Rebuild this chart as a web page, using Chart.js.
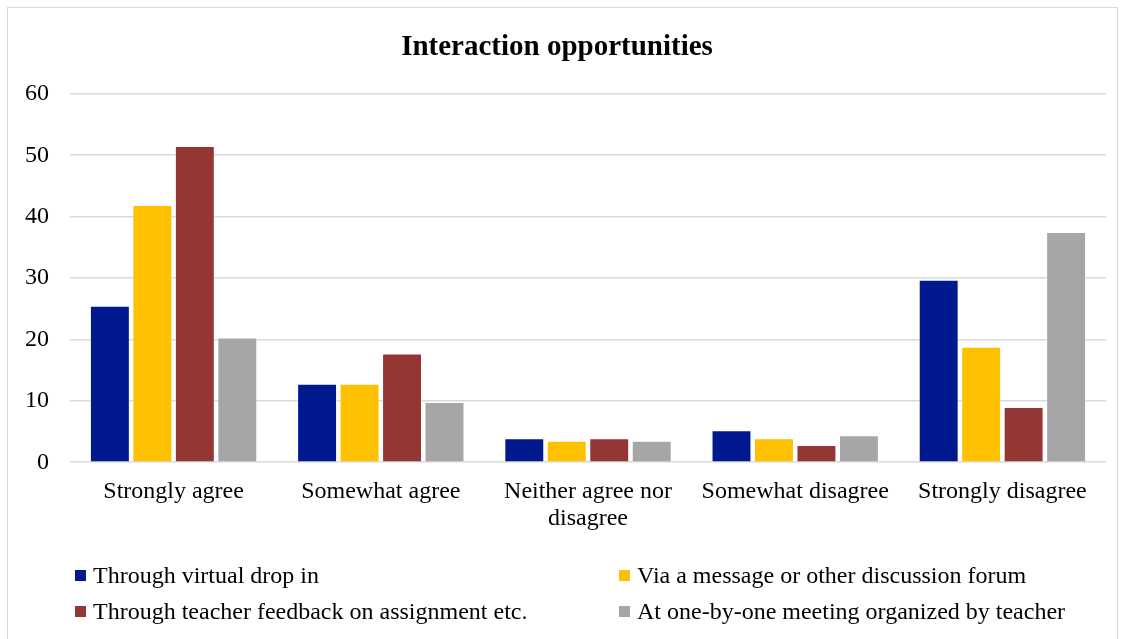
<!DOCTYPE html>
<html lang="en">
<head>
    <meta charset="UTF-8">
    <title>Interaction opportunities</title>
    <script src="https://cdn.jsdelivr.net/npm/chart.js"></script>
    <style>
        body {
            margin: 0;
            background: #ffffff;
            overflow: hidden;
        }
        #wrap {
            position: absolute;
            left: 7px;
            top: 7px;
            width: 1109px;
            height: 640px;
            border: 1px solid #d9d9d9;
        }
    </style>
</head>
<body>
    <div id="wrap">
        <canvas id="chart"></canvas>
    </div>

    <script>
        // Data
        const categories = ['Strongly agree', 'Somewhat agree', ['Neither agree nor', 'disagree'], 'Somewhat disagree', 'Strongly disagree'];
        const seriesNames = [
            'Through virtual drop in',
            'Via a message or other discussion forum',
            'Through teacher feedback on assignment etc.',
            'At one-by-one meeting organized by teacher'
        ];
        const virtualDropIn   = [25.5, 12.8, 3.9, 5.2, 29.7];
        const messageForum    = [41.9, 12.8, 3.5, 3.9, 18.8];
        const teacherFeedback = [51.5, 17.7, 3.9, 2.8, 9.0];
        const oneByOneMeeting = [20.3, 9.8, 3.5, 4.4, 37.5];
        const yTicks = [0, 10, 20, 30, 40, 50, 60];

        const colors = ['#00198F', '#FFC000', '#943634', '#A6A6A6'];
        const FONT = "'Liberation Serif', 'Times New Roman', serif";

        // Two-column legend under the plot, like the original
        const columnLegend = {
            id: 'columnLegend',
            afterDraw(chart) {
                const ctx = chart.ctx;
                const cols = [67, 611];
                const rows = [568, 604];
                ctx.save();
                ctx.font = '24px ' + FONT;
                ctx.textBaseline = 'middle';
                chart.data.datasets.forEach((ds, i) => {
                    const x = cols[i % 2];
                    const y = rows[Math.floor(i / 2)];
                    ctx.fillStyle = ds.backgroundColor;
                    ctx.fillRect(x, y - 6, 11, 11);
                    ctx.fillStyle = '#000';
                    ctx.fillText(ds.label, x + 18, y + 1);
                });
                ctx.restore();
            }
        };

        const allSeries = [virtualDropIn, messageForum, teacherFeedback, oneByOneMeeting];

        new Chart(document.getElementById('chart'), {
            type: 'bar',
            data: {
                labels: categories,
                datasets: allSeries.map((values, i) => ({
                    label: seriesNames[i],
                    data: values,
                    backgroundColor: colors[i],
                    borderColor: 'rgba(255,255,255,0.5)',
                    borderWidth: 1,
                    categoryPercentage: 0.82,
                    barPercentage: 0.94
                }))
            },
            options: {
                responsive: true,
                maintainAspectRatio: false,
                animation: false,
                layout: {
                    padding: { left: 0, right: 11, top: 0, bottom: 108 }
                },
                plugins: {
                    legend: { display: false },
                    tooltip: { enabled: false },
                    title: {
                        display: true,
                        text: 'Interaction opportunities',
                        color: '#000',
                        font: { family: FONT, size: 29, weight: 'bold' },
                        padding: { top: 22, bottom: 29 }
                    }
                },
                scales: {
                    x: {
                        grid: { display: false },
                        border: { display: false },
                        ticks: {
                            color: '#000',
                            padding: 8,
                            maxRotation: 0,
                            font: { family: FONT, size: 24, lineHeight: 1.12 }
                        }
                    },
                    y: {
                        min: 0,
                        max: 60,
                        afterBuildTicks(scale) {
                            scale.ticks = yTicks.map(v => ({ value: v }));
                        },
                        afterFit(scale) {
                            scale.width = 62;
                        },
                        grid: {
                            color: '#d9d9d9',
                            lineWidth: 1.5,
                            drawTicks: false
                        },
                        border: { display: false },
                        ticks: {
                            color: '#000',
                            padding: 21,
                            font: { family: FONT, size: 24 }
                        }
                    }
                }
            },
            plugins: [columnLegend]
        });
    </script>
</body>
</html>
